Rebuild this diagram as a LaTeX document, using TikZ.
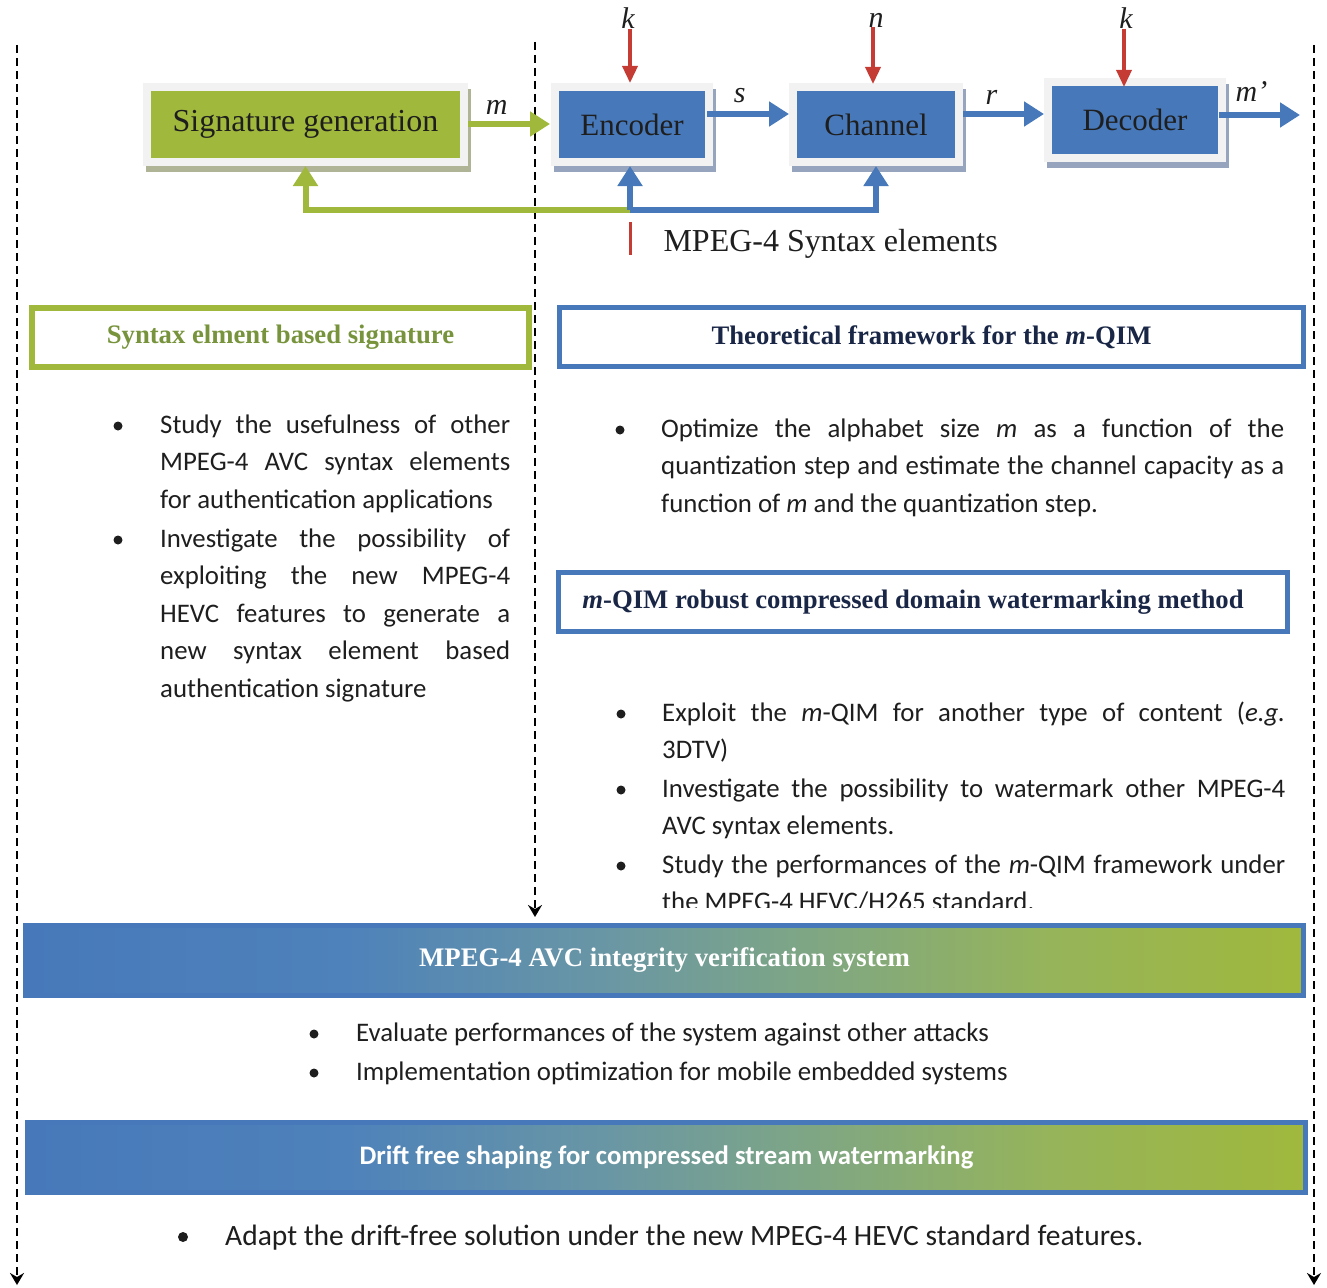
\documentclass[tikz,border=0pt]{standalone}
\usepackage{fontspec}
\setmainfont{Liberation Serif}
\newfontfamily\calib{Carlito}
\usetikzlibrary{positioning,arrows.meta,shadows}

\definecolor{cblue}{RGB}{71,121,186}
\definecolor{cgreen}{RGB}{160,184,60}
\definecolor{cred}{RGB}{196,60,52}
\definecolor{cgtext}{RGB}{119,147,60}
\definecolor{cnavy}{RGB}{25,38,70}
\definecolor{cframe}{RGB}{242,242,242}
\definecolor{shgreen}{RGB}{176,180,150}
\definecolor{shblue}{RGB}{150,164,190}
\definecolor{ctext}{RGB}{30,30,30}
\definecolor{cs1}{RGB}{78,130,186}
\definecolor{cs2}{RGB}{105,150,165}
\definecolor{cs3}{RGB}{125,165,135}
\definecolor{cs4}{RGB}{150,180,90}

\pgfdeclarehorizontalshading{barshade}{100bp}{color(0bp)=(cblue); color(25bp)=(cblue);
  color(37.5bp)=(cs1); color(47.5bp)=(cs2); color(55bp)=(cs3); color(65bp)=(cs4);
  color(75bp)=(cgreen); color(100bp)=(cgreen)}

\tikzset{
  block/.style={draw=cframe, line width=8pt, minimum height=75pt,
    font=\fontsize{31}{31}\selectfont, text=ctext},
  sigblock/.style={block, fill=cgreen, font=\fontsize{32}{32}\selectfont,
    drop shadow={shadow xshift=3pt, shadow yshift=-6pt, fill=shgreen, draw=shgreen, line width=8pt, opacity=1}},
  procblock/.style={block, fill=cblue,
    drop shadow={shadow xshift=3pt, shadow yshift=-6pt, fill=shblue, draw=shblue, line width=8pt, opacity=1}},
  lbl/.style={font=\fontsize{30}{30}\selectfont\itshape, text=ctext, inner sep=0pt},
  bluearr/.style={draw=cblue, line width=6pt, -{Triangle[length=20pt,width=24pt]}},
  greenarr/.style={draw=cgreen, line width=6pt, -{Triangle[length=20pt,width=24pt]}},
  redarr/.style={draw=cred, line width=3.5pt, -{Triangle[length=17pt,width=15pt]}},
  guide/.style={draw=black, line width=2pt, dash pattern=on 8pt off 5pt,
    -{Stealth[length=12pt,width=14pt,inset=4pt]}},
  titlebox/.style={draw, line width=6pt, minimum height=59pt,
    font=\fontsize{26.7}{26.7}\selectfont\bfseries},
  bar/.style={draw=cblue, line width=5pt, shading=barshade, minimum height=70pt,
    minimum width=1278pt, text=white},
  item/.style={anchor=base west, inner sep=0pt, align=justify, text=ctext,
    font=\calib\fontsize{26.8}{37.5}\selectfont},
  dot/.style={circle, fill=ctext, inner sep=0pt, minimum size=9pt}
}

\begin{document}
\begin{tikzpicture}[x=1pt,y=-1pt]
\path[use as bounding box] (0,0) rectangle (1327,1287);

% guide lines
\coordinate (gl1) at (17,45);   \coordinate (gl2) at (17,1285);
\coordinate (gr1) at (1314,45); \coordinate (gr2) at (1314,1285);
\coordinate (gm1) at (535,42);  \coordinate (gm2) at (535,917);
\draw[guide] (gl1) -- (gl2);
\draw[guide] (gr1) -- (gr2);
\draw[guide] (gm1) -- (gm2);

% transmission chain
\node[sigblock, minimum width=317pt] (sig) at (305.5,124.5) {Signature generation};
\node[procblock, minimum width=154pt] (enc) at (632,124.5) {Encoder};
\node[procblock, minimum width=166pt] (chan) at (876,124.5) {Channel};
\node[procblock, minimum width=174pt] (dec) at (1135,120) {Decoder};
\coordinate (out) at (1300,115);

\node[lbl] (kenc) at (628,18) {k};
\node[lbl] (nchan) at (876,20) {n};
\node[lbl] (kdec) at (1126,18) {k};
\draw[redarr] (kenc.south -| 630,0) -- (630,83);
\draw[redarr] (nchan.south -| 873,0) -- (873,84);
\draw[redarr] (kdec.south -| 1124,0) -- (1124,87);

\draw[greenarr] (sig.east |- 0,124) -- (550,124) node[lbl, pos=0.35, above=7pt] (mlbl) {m};
\draw[bluearr] (707,114) -- (chan.west |- 0,114) node[lbl, pos=0.4, above=8pt] (slbl) {s};
\draw[bluearr] (chan.east |- 0,114) -- (dec.west |- 0,114) node[lbl, pos=0.35, above=6pt] (rlbl) {r};
\draw[bluearr] (1219,115) -- (out) node[lbl, pos=0.4, above=10pt] (mout) {m\textquoteright};

% syntax element feedback
\coordinate (se) at (630,210);
\coordinate (sx1) at (630,222);
\coordinate (sx2) at (630,255);
\draw[greenarr] (se) -| (sig.south);
\draw[bluearr] (se) -- (se |- enc.south);
\draw[bluearr] (se) -| (chan.south);
\draw[draw=cred, line width=3pt] (sx1) -- (sx2);
\node[anchor=west, font=\fontsize{32}{32}\selectfont, text=ctext] (syn) at (660,244) {MPEG-4 Syntax elements};

% left column
\node[titlebox, draw=cgreen, text=cgtext, minimum width=497pt] (tsig) at (280.5,337.5) {Syntax elment based signature};
\node[dot] (d1) at (118,426) {};
\node[item, text width=350pt] (l1) at (160,433) {Study the usefulness of other\linebreak MPEG-4 AVC syntax elements\linebreak for authentication applications};
\node[dot] (d2) at (118,540) {};
\node[item, text width=350pt] (l2) at (160,547) {Investigate the possibility of\linebreak exploiting the new MPEG-4\linebreak HEVC features to generate a\linebreak new syntax element based\linebreak authentication signature};

% right column
\node[titlebox, draw=cblue, line width=5pt, text=cnavy, minimum width=744pt] (ttheo) at (931.5,337) {Theoretical framework for the \textit{m}-QIM};
\node[dot] (d3) at (620,430) {};
\node[item, text width=623pt] (r1) at (661,437) {Optimize the alphabet size \textit{m} as a function of the\linebreak quantization step and estimate the channel capacity as a\linebreak function of \textit{m} and the quantization step.};

\node[titlebox, draw=cblue, line width=5pt, text=cnavy, minimum width=729.5pt] (tqim) at (923,602) {\textit{m}-QIM robust compressed domain watermarking method\hspace*{20pt}};
\node[dot] (d4) at (621,714) {};
\node[item, text width=623pt] (r2) at (662,721) {Exploit the \textit{m}-QIM for another type of content (\textit{e.g.}\linebreak 3DTV)};
\node[dot] (d5) at (621,790) {};
\node[item, text width=623pt] (r3) at (662,797) {Investigate the possibility to watermark other MPEG-4\linebreak AVC syntax elements.};
\node[dot] (d6) at (621,866) {};
\begin{scope}
\clip (600,840) rectangle (1300,907);
\node[item, text width=623pt] (r4) at (662,873) {Study the performances of the \textit{m}-QIM framework under\linebreak the MPEG-4 HEVC/H265 standard.};
\end{scope}

% integrity verification
\node[bar, font=\fontsize{26.8}{26.8}\selectfont\bfseries] (avc) at (664.5,960.5) {MPEG-4 AVC integrity verification system};
\node[dot] (d7) at (314,1034) {};
\node[item] (c1) at (356,1041) {Evaluate performances of the system against other attacks};
\node[dot] (d8) at (314,1073) {};
\node[item] (c2) at (356,1080) {Implementation optimization for mobile embedded systems};

% drift free
\node[bar, font=\calib\fontsize{26.7}{26.7}\selectfont\bfseries] (drift) at (666.5,1157.5) {Drift free shaping for compressed stream watermarking};
\node[dot, minimum size=10pt] (d9) at (183,1237) {};
\node[item, font=\calib\fontsize{29.5}{32}\selectfont] (b1) at (225,1245) {Adapt the drift-free solution under the new MPEG-4 HEVC standard features.};
\end{tikzpicture}
\end{document}
